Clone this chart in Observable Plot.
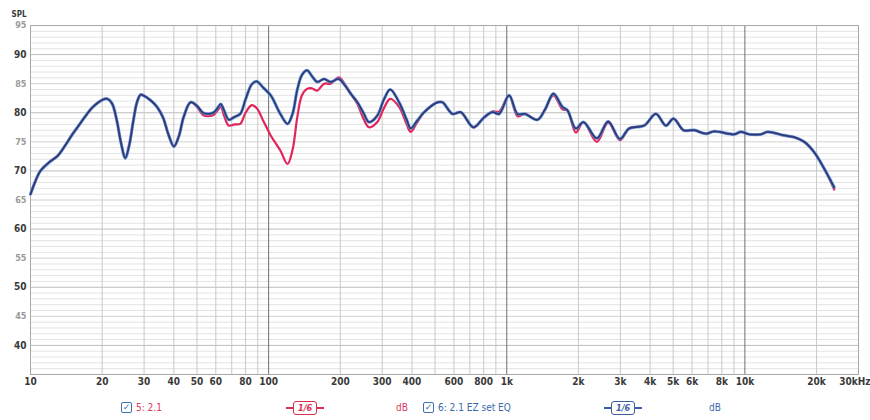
<!DOCTYPE html>
<html><head><meta charset="utf-8">
<script src="https://cdn.jsdelivr.net/npm/d3@7"></script>
<script src="https://cdn.jsdelivr.net/npm/@observablehq/plot@0.6"></script>
<style>
body{margin:0;background:#fff;width:870px;height:420px;overflow:hidden;font-family:"Liberation Sans Narrow","DejaVu Sans Condensed","Liberation Sans",sans-serif}
#chart svg{display:block;overflow:visible}
#legend{position:relative;height:25px;width:870px;font-size:10px}
.it{position:absolute;top:6px;height:13px;display:flex;align-items:center;white-space:nowrap}
.cb{width:9px;height:9px;border:1.5px solid #3d6fb5;border-radius:2px;color:#3d6fb5;font-size:9px;line-height:9px;text-align:center;font-weight:bold;margin-right:4px;font-family:"DejaVu Sans",sans-serif}
.ln{width:7px;height:2px}
.bx{border:1.6px solid;border-radius:3px;padding:0 4px;font-size:9px;font-weight:bold;font-style:italic;height:12px;line-height:12px}
</style></head><body>
<div id="chart"></div>
<div id="legend">
  <div class="it" style="left:121px"><div class="cb">✓</div><span style="color:#e0395f">5: 2.1</span></div>
  <div class="it" style="left:286px;color:#d8304f"><div class="ln" style="background:#d8304f"></div><div class="bx" style="border-color:#d8304f">1/6</div><div class="ln" style="background:#d8304f"></div></div>
  <div class="it" style="left:396px;color:#e0395f">dB</div>
  <div class="it" style="left:423px"><div class="cb">✓</div><span style="color:#3b67ad">6: 2.1 EZ set EQ</span></div>
  <div class="it" style="left:604px;color:#3b5fa5"><div class="ln" style="background:#3b5fa5"></div><div class="bx" style="border-color:#3b5fa5">1/6</div><div class="ln" style="background:#3b5fa5"></div></div>
  <div class="it" style="left:709px;color:#3b67ad">dB</div>
</div>
<script>
// Frequency points (Hz)
const freqs = [10, 10.5, 11, 12, 13, 14, 15, 16, 17, 18, 19, 20, 21, 22, 23, 24, 25, 26, 27, 28, 29, 30, 32, 34, 36, 38, 40, 42, 44, 47, 50, 53, 56, 59, 61, 63, 65, 68, 72, 76, 80, 85, 89, 95, 102, 112, 120, 126, 132, 138, 145, 152, 160, 171, 182, 197, 210, 221, 236, 250, 264, 286, 305, 324, 353, 380, 395, 420, 450, 512, 537, 592, 641, 725, 803, 871, 929, 1023, 1109, 1191, 1346, 1450, 1570, 1714, 1799, 1950, 2100, 2390, 2666, 2985, 3268, 3778, 4230, 4660, 5015, 5525, 6120, 6860, 7430, 9020, 9620, 10420, 11680, 12450, 14620, 16110, 17750, 19550, 21530, 23710];

// 6: 2.1 EZ set EQ (blue)
const splEQ = [66.0, 68.3, 70.0, 71.5, 72.6, 74.4, 76.3, 77.9, 79.4, 80.7, 81.6, 82.2, 82.4, 81.6, 78.8, 74.8, 72.2, 74.5, 78.5, 81.8, 83.1, 82.9, 82.1, 81.0, 79.2, 76.2, 74.2, 76.0, 79.3, 81.8, 81.2, 80.0, 79.8, 80.1, 80.8, 81.5, 80.4, 78.8, 79.3, 79.8, 82.3, 84.9, 85.4, 84.3, 83.0, 79.8, 78.1, 79.8, 84.0, 86.5, 87.3, 86.3, 85.3, 85.8, 85.3, 85.8, 84.6, 83.3, 81.8, 80.0, 78.4, 79.5, 82.3, 84.0, 81.8, 78.8, 77.3, 78.6, 80.1, 81.8, 81.8, 79.8, 80.1, 77.5, 79.2, 80.1, 79.8, 83.0, 79.8, 79.8, 78.8, 80.6, 83.3, 81.0, 80.4, 77.3, 78.4, 75.6, 78.5, 75.5, 77.3, 77.8, 79.8, 77.8, 79.0, 77.0, 77.0, 76.4, 76.8, 76.3, 76.7, 76.3, 76.3, 76.7, 76.1, 75.8, 75.0, 73.2, 70.4, 67.2];

// 5: 2.1 (red)
const spl21 = [66.0, 68.3, 70.0, 71.5, 72.6, 74.4, 76.3, 77.9, 79.4, 80.7, 81.6, 82.2, 82.4, 81.6, 78.8, 74.8, 72.2, 74.5, 78.5, 81.8, 83.1, 82.9, 82.1, 81.0, 79.2, 76.2, 74.2, 76.0, 79.3, 81.8, 81.0, 79.6, 79.4, 79.7, 80.4, 81.0, 79.5, 77.8, 78.0, 78.1, 80.0, 81.3, 80.8, 78.6, 76.1, 73.5, 71.2, 73.6, 79.3, 83.0, 84.1, 84.2, 83.8, 85.0, 85.0, 86.1, 84.8, 83.3, 81.5, 79.0, 77.5, 78.4, 80.8, 82.4, 81.0, 78.0, 76.7, 78.3, 80.1, 81.8, 81.8, 79.8, 80.1, 77.5, 79.2, 80.2, 80.2, 83.0, 79.4, 79.8, 78.8, 80.6, 83.0, 80.6, 80.4, 76.6, 78.4, 75.0, 78.3, 75.3, 77.3, 77.8, 79.8, 77.8, 79.0, 77.0, 77.0, 76.4, 76.8, 76.3, 76.7, 76.3, 76.3, 76.7, 76.1, 75.8, 75.0, 73.2, 70.4, 66.8];

const xTicks = [10, 20, 30, 40, 50, 60, 80, 100, 200, 300, 400, 600, 800, 1000, 2000, 3000, 4000, 5000, 6000, 8000, 10000, 20000, 30000];
const xTickLabels = ["10", "20", "30", "40", "50", "60", "80", "100", "200", "300", "400", "600", "800", "1k", "2k", "3k", "4k", "5k", "6k", "8k", "10k", "20k", "30kHz"];
const yTicksMajor = [90, 80, 70, 60, 50, 40];
const yTicksMinor = [95, 85, 75, 65, 55, 45];

const rows = freqs.map((f, i) => ({f, eq: splEQ[i], base: spl21[i]}));
const xLabelRows = xTicks.map((t, i) => ({t, label: xTickLabels[i]}));
const lastX = xLabelRows.pop();

// grid positions
const gridX = [];
for (const dec of [10, 100, 1000, 10000]) for (let k = 1; k <= 9; k++) { const v = dec * k; if (v <= 30000) gridX.push(v); }
const gridXDecade = [100, 1000, 10000];
const gridXMinor = gridX.filter(v => !gridXDecade.includes(v));
const gridY1 = d3.range(36, 95).filter(v => v % 5 !== 0);
const gridY5 = d3.range(35, 96, 5).filter(v => v % 10 !== 0);
const gridY10 = d3.range(40, 95, 10);

const font = '"Liberation Sans Narrow","DejaVu Sans Condensed","Liberation Sans",sans-serif';

const chart = Plot.plot({
  width: 870,
  height: 395,
  marginLeft: 30,
  marginRight: 12,
  marginTop: 25,
  marginBottom: 21,
  style: {fontFamily: font, fontSize: "10px", background: "#fff"},
  x: {type: "log", domain: [10, 30000], axis: null},
  y: {domain: [35, 95], axis: null},
  marks: [
    Plot.ruleY(gridY1, {stroke: "#e3e3e3", strokeWidth: 1}),
    Plot.ruleY(gridY5, {stroke: "#d2d2d2", strokeWidth: 1}),
    Plot.ruleY(gridY10, {stroke: "#bdbdbd", strokeWidth: 1}),
    Plot.ruleX(gridXMinor, {stroke: "#c9c9c9", strokeWidth: 1}),
    Plot.ruleX(gridXDecade, {stroke: "#6f6f6f", strokeWidth: 1}),
    Plot.frame({stroke: "#a8a8a8"}),
    Plot.axisY(yTicksMajor, {tickSize: 0, tickPadding: 4, fill: "#3a3a3a", fontWeight: "bold", label: null}),
    Plot.axisY(yTicksMinor, {tickSize: 0, tickPadding: 4, fill: "#9a9a9a", fontWeight: "bold", fontSize: 9, label: null}),
    Plot.text(xLabelRows, {x: "t", text: "label", frameAnchor: "bottom", dy: 10, fill: "#3a3a3a", fontWeight: "bold"}),
    Plot.text([lastX], {x: "t", text: "label", frameAnchor: "bottom", dy: 10, dx: 12, textAnchor: "end", fill: "#3a3a3a", fontWeight: "bold"}),
    Plot.text(["SPL"], {frameAnchor: "top-left", dx: -19, dy: -14, textAnchor: "start", fontSize: 8, fontWeight: "bold", fill: "#3a3a3a"}),
    Plot.line(rows, {x: "f", y: "base", curve: "catmull-rom", stroke: "#e2245a", strokeWidth: 2.2}),
    Plot.line(rows, {x: "f", y: "eq", curve: "catmull-rom", stroke: "#5e98d4", strokeWidth: 3.2, strokeOpacity: 0.85}),
    Plot.line(rows, {x: "f", y: "eq", curve: "catmull-rom", stroke: "#2c3a7c", strokeWidth: 1.8})
  ]
});
document.getElementById("chart").appendChild(chart);
</script>
</body></html>
